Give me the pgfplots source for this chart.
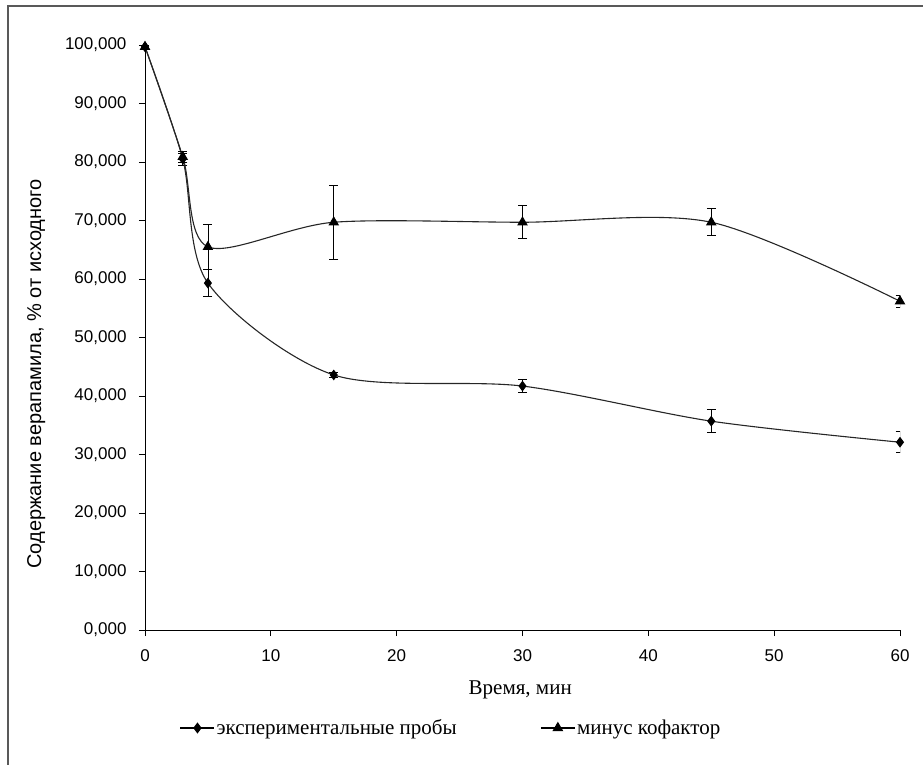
\documentclass[border=0pt]{standalone}
\usepackage{fontspec}
\setmainfont{Liberation Serif}
\newfontfamily\arial{Liberation Sans}
\usepackage{pgfplots}
\usepackage{pgfplotstable}
\pgfplotsset{compat=1.18}

\pgfplotstableread{
x y e
0 99.7 0.2
3 80.5 1.0
5 59.3 2.3
15 43.6 0.4
30 41.7 1.1
45 35.7 2.0
60 32.1 1.8
}\expdata
\pgfplotstableread{
x y e
0 99.7 0.2
3 80.9 0.9
5 65.5 3.9
15 69.7 6.3
30 69.7 2.8
45 69.7 2.3
60 56.2 1.0
}\cofdata

\begin{document}
\begin{tikzpicture}
\path[use as bounding box] (-145pt,-134pt) rectangle (778pt,630pt);
\begin{axis}[
  at={(0,0)}, anchor=south west,
  scale only axis,
  width=755pt, height=585pt,
  xmin=0, xmax=60, ymin=0, ymax=100,
  axis x line=bottom, axis y line=left,
  axis line style={-, line width=0.9pt},
  tick style={black, line width=0.9pt},
  tick align=outside,
  major tick length=6pt,
  xtick={0,10,...,60},
  ytick={0,10,...,100},
  /pgf/number format/assume math mode=true,
  yticklabel style={xshift=-9pt, /pgf/number format/.cd, fixed, fixed zerofill, precision=3, use comma, 1000 sep={}},
  xticklabel style={yshift=-10pt, /pgf/number format/.cd, fixed, precision=0},
  ticklabel style={font=\arial\fontsize{17}{19}\selectfont},
  xlabel={Время, мин},
  xlabel style={at={(axis description cs:0.497,-0.1026)}, anchor=center, font=\fontsize{21}{24}\selectfont},
  ylabel={Содержание верапамила, \% от исходного},
  ylabel style={at={(axis description cs:-0.144,0.4376)}, anchor=center, font=\arial\fontsize{20}{23}\selectfont},
  legend columns=2,
  legend style={draw=none, fill=none, at={(axis description cs:0.405,-0.1675)}, anchor=center,
     font=\fontsize{21}{24}\selectfont, nodes={inner sep=1.5pt},
     /tikz/every even column/.append style={column sep=82pt}},
  legend image code/.code={\draw[mark repeat=2,mark phase=2, line width=1.3pt, black] plot coordinates {(0pt,0pt) (17pt,0pt) (34pt,0pt)};},
  error bars/y dir=both, error bars/y explicit,
  error bars/error mark options={rotate=90, mark size=4.5pt, line width=0.8pt, black},
  error bars/error bar style={line width=0.8pt, black},
]
\addplot[black!85, line width=1.1pt, smooth, mark=diamond*, mark size=4.5pt, mark options={black, solid}]
  table[x=x, y=y, y error=e] {\expdata};
\addlegendentry{экспериментальные пробы}
\addplot[black!85, line width=1.1pt, smooth, mark=triangle*, mark size=5pt, mark options={black, solid}]
  table[x=x, y=y, y error=e] {\cofdata};
\addlegendentry{минус кофактор}
\end{axis}
\draw[black!65, line width=1.6pt] (-137pt,-140pt) -- (-137pt,624pt) -- (790pt,624pt);
\end{tikzpicture}
\end{document}
